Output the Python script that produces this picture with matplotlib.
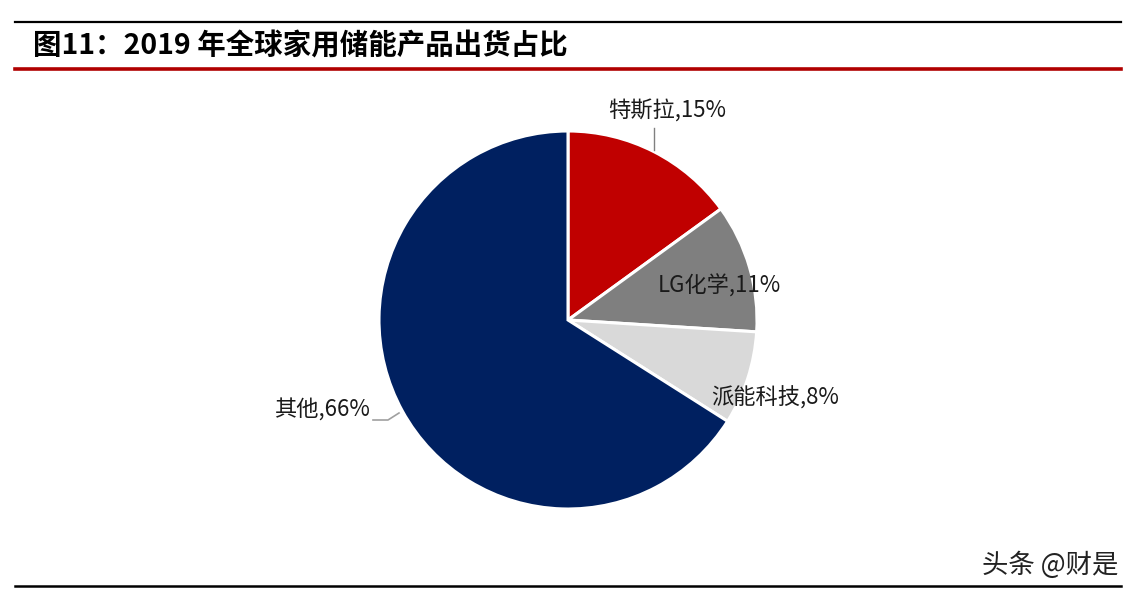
import matplotlib
matplotlib.use("Agg")
import matplotlib.pyplot as plt
from matplotlib.lines import Line2D

plt.rcParams["font.family"] = ["Noto Sans CJK SC", "DejaVu Sans"]

# ---- data -------------------------------------------------------------------
title = "图11：2019 年全球家用储能产品出货占比"
companies = ["特斯拉", "LG化学", "派能科技", "其他"]
shares = [15, 11, 8, 66]
colors = ["#C00000", "#7F7F7F", "#D9D9D9", "#002060"]
watermark = "头条 @财是"

W, H = 1135, 595
fig = plt.figure(figsize=(W / 100, H / 100), dpi=100)
ax = fig.add_axes([0, 0, 1, 1])

# frame lines (pixel coordinates, y measured from bottom)
ax.add_line(Line2D([15, 1121], [H - 22, H - 22], color="black", lw=1.6))
ax.add_line(Line2D([15, 1121], [H - 69, H - 69], color="#B00000", lw=2.6))
ax.add_line(Line2D([15, 1121], [H - 586, H - 586], color="black", lw=1.8))

ax.text(33, H - 46, title, fontsize=20.5, fontweight="bold",
        ha="left", va="center", color="black")

cx, cy, r = 568, H - 320, 189
wedges, _ = ax.pie(shares, colors=colors, startangle=90, counterclock=False,
                   center=(cx, cy), radius=r, frame=True,
                   wedgeprops=dict(edgecolor="white", linewidth=2.2))
ax.set_xlim(0, W)
ax.set_ylim(0, H)
ax.axis("off")

labels = [f"{c},{s}%" for c, s in zip(companies, shares)]
lab_kw = dict(fontsize=16, color="#1a1a1a", va="center")

# 特斯拉 with leader line
ax.text(667, H - 111, labels[0], ha="center", **lab_kw)
ax.add_line(Line2D([654, 654], [H - 128, H - 150], color="#808080", lw=1.0))
# LG化学
ax.text(719, H - 286, labels[1], ha="center", **lab_kw)
# 派能科技
ax.text(775, H - 398, labels[2], ha="center", **lab_kw)
# 其他 with leader line
ax.text(322, H - 410, labels[3], ha="center", **lab_kw)
ax.add_line(Line2D([373, 388, 399], [H - 420, H - 420, H - 413],
                   color="#A0A0A0", lw=1.2))

ax.text(1118, H - 565, watermark, fontsize=19, ha="right", va="center",
        color="#222222")

fig.savefig("out.png", dpi=100)
